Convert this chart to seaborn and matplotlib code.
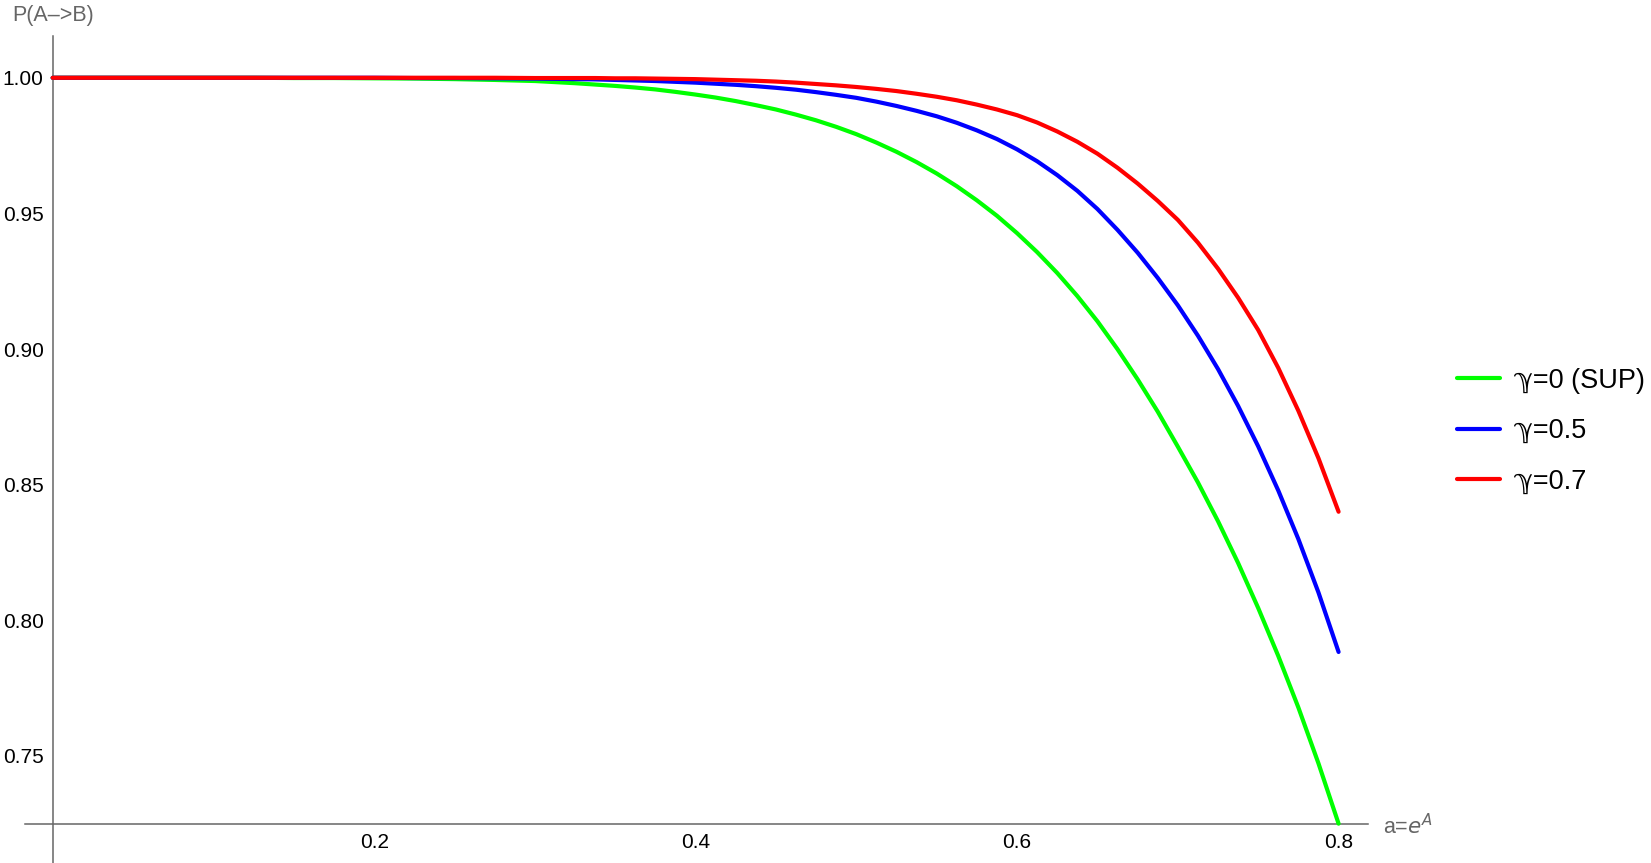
import numpy as np
import pandas as pd
import matplotlib
matplotlib.use("Agg")
import matplotlib.pyplot as plt
from matplotlib.ticker import FixedLocator, FormatStrFormatter
import seaborn as sns

# ---- data ----
a_values = [0.000, 0.025, 0.050, 0.075, 0.100, 0.125, 0.150, 0.175, 0.200, 0.225,
            0.250, 0.275, 0.300, 0.3125, 0.325, 0.3375, 0.350, 0.3625, 0.375, 0.3875,
            0.400, 0.4125, 0.425, 0.4375, 0.450, 0.4625, 0.475, 0.4875, 0.500, 0.5125,
            0.525, 0.5375, 0.550, 0.5625, 0.575, 0.5875, 0.600, 0.6125, 0.625, 0.6375,
            0.650, 0.6625, 0.675, 0.6875, 0.700, 0.7125, 0.725, 0.7375, 0.750, 0.7625,
            0.775, 0.7875, 0.800]

p_gamma0 = [1.0000, 1.0000, 1.0000, 1.0000, 1.0000, 1.0000, 0.9999, 0.9999, 0.9998, 0.9997,
            0.9995, 0.9992, 0.9988, 0.9984, 0.9980, 0.9975, 0.9970, 0.9964, 0.9957, 0.9948,
            0.9938, 0.9927, 0.9914, 0.9899, 0.9883, 0.9864, 0.9843, 0.9819, 0.9792, 0.9761,
            0.9727, 0.9689, 0.9647, 0.9600, 0.9548, 0.9491, 0.9427, 0.9357, 0.9280, 0.9195,
            0.9102, 0.8999, 0.8888, 0.8769, 0.8640, 0.8508, 0.8365, 0.8211, 0.8045, 0.7868,
            0.7678, 0.7472, 0.7250]

p_gamma05 = [1.0000, 1.0000, 1.0000, 1.0000, 1.0000, 1.0000, 1.0000, 1.0000, 1.0000, 0.9999,
             0.9999, 0.9998, 0.9997, 0.9996, 0.9995, 0.9994, 0.9992, 0.9990, 0.9988, 0.9985,
             0.9982, 0.9978, 0.9974, 0.9969, 0.9963, 0.9956, 0.9947, 0.9937, 0.9926, 0.9912,
             0.9896, 0.9878, 0.9858, 0.9834, 0.9806, 0.9774, 0.9736, 0.9692, 0.9641, 0.9583,
             0.9516, 0.9439, 0.9355, 0.9262, 0.9161, 0.9049, 0.8926, 0.8790, 0.8641, 0.8478,
             0.8299, 0.8102, 0.7883]

p_gamma07 = [1.0000, 1.0000, 1.0000, 1.0000, 1.0000, 1.0000, 1.0000, 1.0000, 1.0000, 1.0000,
             1.0000, 1.0000, 0.9999, 0.9999, 0.9999, 0.9999, 0.9998, 0.9998, 0.9997, 0.9996,
             0.9995, 0.9993, 0.9991, 0.9989, 0.9986, 0.9982, 0.9977, 0.9972, 0.9966, 0.9959,
             0.9951, 0.9941, 0.9930, 0.9917, 0.9901, 0.9883, 0.9862, 0.9835, 0.9802, 0.9764,
             0.9720, 0.9668, 0.9610, 0.9546, 0.9476, 0.9392, 0.9296, 0.9189, 0.9070, 0.8930,
             0.8772, 0.8597, 0.8400]

series_labels = ["\u213d=0 (SUP)", "\u213d=0.5", "\u213d=0.7"]
series_colors = ["#00ff00", "#0000ff", "#ff0000"]

y_major_ticks = [0.75, 0.80, 0.85, 0.90, 0.95, 1.00]
x_major_ticks = [0.2, 0.4, 0.6, 0.8]

# ---- build long-form table ----
frames = []
for lab, vals in zip(series_labels, [p_gamma0, p_gamma05, p_gamma07]):
    frames.append(pd.DataFrame({"a": a_values, "P": vals, "series": lab}))
df = pd.concat(frames, ignore_index=True)

sns.set_style("white")
plt.rcParams["font.family"] = ["Liberation Sans", "DejaVu Sans"]

fig = plt.figure(figsize=(16.51, 8.63), dpi=100)
ax = fig.add_axes([25 / 1651, 0.0, (1368 - 25) / 1651, 1 - 36 / 863])

sns.lineplot(data=df, x="a", y="P", hue="series", hue_order=series_labels,
             palette=dict(zip(series_labels, series_colors)),
             estimator=None, errorbar=None, sort=False, linewidth=3.0,
             legend=False, ax=ax)

ax.set_xlim(-0.0172, 0.8183)
ax.set_ylim(0.7105, 1.0154)

# Mathematica-like axes crossing
axis_color = "#666666"
ax.spines["top"].set_visible(False)
ax.spines["right"].set_visible(False)
ax.spines["left"].set_position(("data", 0.0))
ax.spines["bottom"].set_position(("data", 0.7248))
for s in ("left", "bottom"):
    ax.spines[s].set_color(axis_color)
    ax.spines[s].set_linewidth(1.1)
    ax.spines[s].set_zorder(1)

ax.xaxis.set_major_locator(FixedLocator(x_major_ticks))
ax.xaxis.set_minor_locator(FixedLocator([0.05, 0.10, 0.15, 0.25, 0.30, 0.35, 0.45,
                                         0.50, 0.55, 0.65, 0.70, 0.75]))
ax.yaxis.set_major_locator(FixedLocator(y_major_ticks))
ax.yaxis.set_minor_locator(FixedLocator([round(0.71 + 0.01 * i, 2) for i in range(31)
                                         if round(0.71 + 0.01 * i, 2) not in y_major_ticks]))
ax.xaxis.set_major_formatter(FormatStrFormatter("%.1f"))
ax.yaxis.set_major_formatter(FormatStrFormatter("%.2f"))

ax.tick_params(axis="both", which="major", direction="in", length=6.2, width=1.0,
               color=axis_color, labelsize=15, labelcolor="black")
ax.tick_params(axis="both", which="minor", direction="in", length=3.8, width=1.0,
               color=axis_color)
ax.tick_params(axis="y", which="major", pad=6.5)
ax.tick_params(axis="x", which="major", pad=6)
ax.set_xlabel("")
ax.set_ylabel("")
ax.grid(False)

# axis labels placed like Mathematica's AxesLabel
fig.text(12 / 1651, 1 - 21 / 863, "P(A\u2013>B)", ha="left", va="baseline",
         fontsize=15.5, color=axis_color)
fig.text(1383 / 1651, 1 - 834 / 863, "a=$\\mathit{e}^{\\mathit{A}}$", ha="left",
         va="baseline", fontsize=15.5, color=axis_color)

# legend
handles = ax.get_lines()[:3]
leg = fig.legend(handles, series_labels, loc="center left",
                 bbox_to_anchor=(1457 / 1651, 1 - 431 / 863),
                 frameon=False, fontsize=19.5, handlelength=1.6,
                 handletextpad=0.45, labelspacing=0.9, borderpad=0, borderaxespad=0)
for t in leg.get_texts():
    t.set_color("black")
for lh in leg.get_lines():
    lh.set_linewidth(3.0)

fig.savefig("out.png", dpi=100)
